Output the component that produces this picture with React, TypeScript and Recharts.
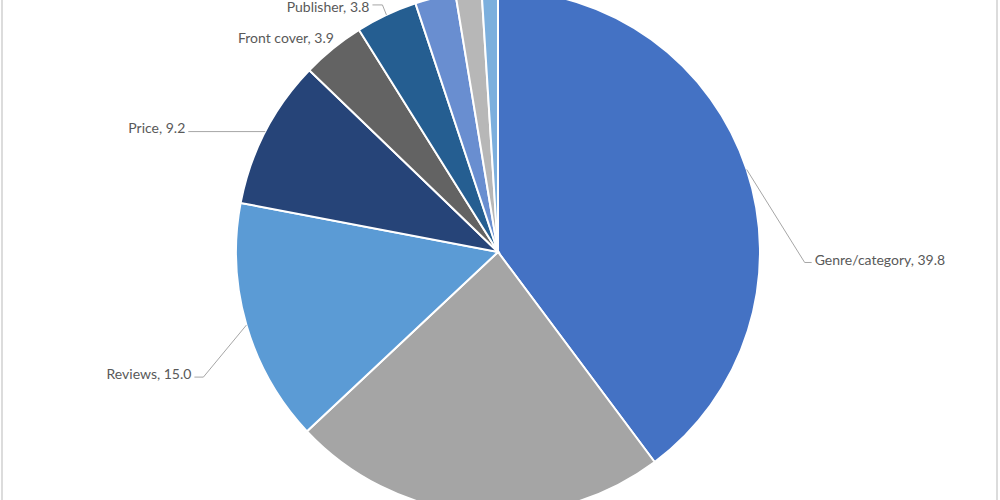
import React from 'react';
import { PieChart, Pie, Cell } from 'recharts';

const categories = [
  'Genre/category',
  'Author',
  'Reviews',
  'Price',
  'Front cover',
  'Publisher',
  'Recommendations',
  'Bestseller lists',
  'Other',
];
const values = [39.8, 23.2, 15.0, 9.2, 3.9, 3.8, 2.5, 1.6, 1.0];
const colors = [
  '#4472C4',
  '#A5A5A5',
  '#5B9BD5',
  '#264478',
  '#636363',
  '#255E91',
  '#698ED0',
  '#B7B7B7',
  '#7CAFDD',
];

// label placement (styling only): offset of elbow from the slice edge, stub length, text side
type LabelStyle = { dx: number; dy: number; stub: number; line: boolean; right: boolean; ty: number } | null;
const labelStyles: LabelStyle[] = [
  { dx: 58, dy: 93, stub: 7, line: true, right: true, ty: -3 },
  null,
  { dx: -43, dy: 52, stub: -9, line: true, right: false, ty: -4 },
  { dx: -77, dy: 0, stub: 0, line: true, right: false, ty: -4 },
  { dx: 1, dy: -11, stub: 0, line: false, right: false, ty: 0 },
  { dx: -4, dy: -10, stub: -10, line: true, right: false, ty: 2 },
  null,
  null,
  null,
];

const data = categories.map((name, i) => ({ name, value: values[i] }));
const RAD = Math.PI / 180;

const renderLabel = (props: any) => {
  const { cx, cy, midAngle, outerRadius, index, name, value } = props;
  const st = labelStyles[index];
  if (!st) return null;
  const x0 = cx + outerRadius * Math.cos(-midAngle * RAD);
  const y0 = cy + outerRadius * Math.sin(-midAngle * RAD);
  const x1 = x0 + st.dx;
  const y1 = y0 + st.dy;
  const x2 = x1 + st.stub;
  const tx = st.line ? x2 + (st.right ? 3 : -3) : x1;
  return (
    <g key={`lbl-${index}`}>
      {st.line && (
        <polyline
          points={`${x0},${y0} ${x1},${y1} ${x2},${y1}`}
          fill="none"
          stroke="#A6A6A6"
          strokeWidth={1}
        />
      )}
      <text
        x={tx}
        y={y1 + st.ty}
        textAnchor={st.right ? 'start' : 'end'}
        dominantBaseline="central"
        fill="#595959"
        fontSize={14}
        fontFamily="Lato, 'Liberation Sans', sans-serif"
      >
        {`${name}, ${Number(value).toFixed(1)}`}
      </text>
    </g>
  );
};

export default function App() {
  return (
    <div
      style={{
        position: 'absolute',
        left: 0,
        top: 0,
        width: 1000,
        height: 500,
        overflow: 'hidden',
        background: '#fff',
      }}
    >
      <PieChart width={1000} height={500} margin={{ top: 0, right: 0, bottom: 0, left: 0 }}>
        <Pie
          data={data}
          dataKey="value"
          nameKey="name"
          cx={498}
          cy={252}
          outerRadius={262}
          startAngle={90}
          endAngle={-270}
          stroke="#ffffff"
          strokeWidth={2}
          label={renderLabel}
          labelLine={false}
          isAnimationActive={false}
        >
          {data.map((d, i) => (
            <Cell key={d.name} fill={colors[i]} />
          ))}
        </Pie>
      </PieChart>
      <div style={{ position: 'absolute', left: 1, top: 0, width: 2, height: 500, background: '#DCDCDC' }} />
      <div style={{ position: 'absolute', left: 996, top: 0, width: 2, height: 500, background: '#DCDCDC' }} />
    </div>
  );
}
